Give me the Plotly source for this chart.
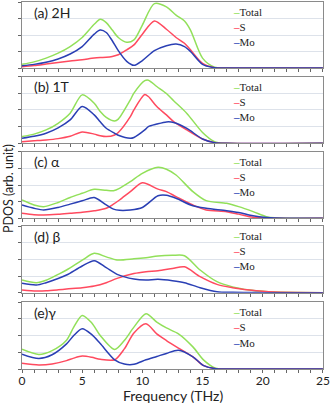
import plotly.graph_objects as go

panel_labels = ["(a) 2H", "(b) 1T", "(c) α", "(d) β", "(e)γ"]
series_names = ["Total", "S", "Mo"]
series_colors = ["#92e05a", "#ff4a5f", "#2a3fb4"]
x_tick_vals = [0, 5, 10, 15, 20, 25]

# ---- (a) 2H ----
freq_a = [0, 1, 2, 3, 4, 5, 6, 6.5, 7, 7.5, 8, 8.7, 9.3, 10, 11, 12, 12.8, 13.5, 14, 15, 16, 17, 25]
total_a = [0.22, 0.37, 0.6, 0.9, 1.3, 1.85, 2.65, 2.95, 2.75, 2.3, 1.85, 1.56, 1.7, 2.6, 3.9, 3.7, 3.2, 2.85, 2.3, 0.6, 0.05, 0, 0]
s_a = [0.08, 0.15, 0.24, 0.33, 0.42, 0.5, 0.6, 0.63, 0.65, 0.7, 0.8, 1.1, 1.4, 2.05, 2.85, 2.35, 1.85, 1.5, 1.1, 0.28, 0.02, 0, 0]
mo_a = [0.14, 0.22, 0.35, 0.55, 0.85, 1.3, 2.05, 2.3, 2.15, 1.65, 1.05, 0.4, 0.16, 0.45, 1.05, 1.35, 1.45, 1.3, 1.0, 0.22, 0.02, 0, 0]

# ---- (b) 1T ----
freq_b = [0, 1, 2, 3, 4, 5, 6, 6.5, 7, 7.7, 8, 9, 9.3, 10.2, 10.5, 11.2, 12, 12.6, 13.7, 15, 16, 17, 25]
total_b = [0.4, 0.55, 0.8, 1.2, 1.8, 2.9, 2.4, 1.9, 1.55, 1.33, 1.45, 2.6, 3.0, 3.75, 3.78, 3.4, 2.98, 2.55, 1.79, 0.65, 0.1, 0, 0]
s_b = [0.1, 0.15, 0.2, 0.28, 0.42, 0.68, 0.55, 0.45, 0.4, 0.5, 0.65, 1.6, 2.0, 2.92, 2.8, 2.2, 1.7, 1.3, 0.8, 0.26, 0.04, 0, 0]
mo_b = [0.3, 0.42, 0.6, 0.92, 1.4, 2.2, 1.7, 1.29, 0.9, 0.6, 0.48, 0.3, 0.35, 0.8, 1.0, 1.15, 1.28, 1.25, 0.89, 0.26, 0.04, 0, 0]

# ---- (c) alpha ----
freq_c = [0, 1, 1.8, 3, 4, 5, 6, 7, 7.6, 8.1, 9, 10, 11.3, 12, 12.8, 14.2, 15.3, 17, 18, 19.2, 20.3, 21, 25]
total_c = [1.1, 0.8, 0.7, 0.95, 1.25, 1.5, 1.74, 1.68, 1.66, 1.8, 2.2, 2.7, 3.06, 2.95, 2.6, 1.6, 1.06, 0.9, 0.7, 0.4, 0.1, 0.03, 0]
s_c = [0.3, 0.22, 0.2, 0.24, 0.3, 0.36, 0.45, 0.6, 0.85, 1.1, 1.6, 2.13, 1.75, 1.6, 1.3, 0.8, 0.5, 0.4, 0.25, 0.06, 0.02, 0, 0]
mo_c = [0.8, 0.6, 0.5, 0.65, 0.85, 1.05, 1.25, 0.8, 0.55, 0.48, 0.5, 0.65, 1.35, 1.38, 1.2, 0.75, 0.6, 0.46, 0.35, 0.15, 0.05, 0.02, 0]

# ---- (d) beta ----
freq_d = [0, 1.2, 2, 3, 3.7, 5, 6, 7, 7.9, 9.3, 10.3, 11.3, 12.5, 13.5, 14.8, 16.2, 17.5, 18.9, 20, 21, 25]
total_d = [0.76, 0.6, 0.75, 1.1, 1.36, 1.95, 2.36, 2.15, 1.96, 2.03, 2.1, 2.2, 2.24, 2.22, 1.36, 0.66, 0.35, 0.16, 0.08, 0.04, 0]
s_d = [0.16, 0.1, 0.11, 0.17, 0.22, 0.3, 0.4, 0.6, 0.86, 1.15, 1.26, 1.32, 1.45, 1.55, 0.96, 0.5, 0.3, 0.16, 0.08, 0.04, 0]
mo_d = [0.56, 0.46, 0.6, 0.85, 1.06, 1.6, 1.92, 1.5, 1.1, 0.82, 0.76, 0.8, 0.72, 0.6, 0.3, 0.06, 0.02, 0.01, 0, 0, 0]

# ---- (e) gamma ----
freq_e = [0, 1.4, 2.5, 3.7, 4.3, 5, 5.8, 6.5, 7.7, 8.5, 9.3, 10.3, 11.2, 12, 13, 14.2, 15.1, 16.1, 17, 25]
total_e = [1.18, 0.87, 1.1, 1.72, 2.5, 3.2, 2.75, 2.0, 1.16, 1.7, 2.5, 3.3, 2.8, 2.45, 2.1, 1.32, 0.53, 0.04, 0, 0]
s_e = [0.34, 0.24, 0.3, 0.5, 0.65, 0.77, 0.7, 0.58, 0.55, 1.2, 2.15, 2.7, 2.1, 1.7, 1.25, 0.73, 0.2, 0.02, 0, 0]
mo_e = [0.89, 0.63, 0.85, 1.5, 2.0, 2.4, 2.05, 1.52, 0.55, 0.3, 0.28, 0.55, 0.75, 0.93, 1.12, 0.73, 0.2, 0.02, 0, 0]

panels = [
    (freq_a, [total_a, s_a, mo_a]),
    (freq_b, [total_b, s_b, mo_b]),
    (freq_c, [total_c, s_c, mo_c]),
    (freq_d, [total_d, s_d, mo_d]),
    (freq_e, [total_e, s_e, mo_e]),
]

W, H = 331, 404
ml, mr, mt, mb = 22, 8, 0, 35
plot_h = H - mt - mb
# panel top/bottom in pixels
panel_px = [(2, 68), (76.5, 143.3), (151.7, 218.3), (226, 292.7), (302, 369)]

fig = go.Figure()
layout = dict(
    width=W, height=H,
    margin=dict(l=ml, r=mr, t=mt, b=mb),
    paper_bgcolor="white", plot_bgcolor="white",
    showlegend=False,
    font=dict(family="Lato", color="#222"),
)
annotations = []

for i, (freq, vals) in enumerate(panels):
    n = i + 1
    xa = "x" if n == 1 else f"x{n}"
    ya = "y" if n == 1 else f"y{n}"
    for name, col, v in zip(series_names, series_colors, vals):
        fig.add_trace(go.Scatter(
            x=freq, y=v, mode="lines", name=name,
            line=dict(color=col, width=1.5, shape="spline", smoothing=0.8),
            xaxis=xa, yaxis=ya, showlegend=False,
        ))
    top, bot = panel_px[i]
    dom = [(plot_h - (bot - mt)) / plot_h, (plot_h - (top - mt)) / plot_h]
    last = (n == 5)
    layout["xaxis" if n == 1 else f"xaxis{n}"] = dict(
        domain=[0, 1], range=[0, 25.01], anchor=ya,
        showline=True, linecolor="#8a8a8a", linewidth=1, mirror=True,
        showgrid=False, zeroline=False,
        ticks="outside", ticklen=3, tickcolor="#666",
        tickvals=x_tick_vals, showticklabels=last,
        tickfont=dict(family="Lato", size=12, color="#222"),
        ticklabelstandoff=-2,
        minor=dict(dtick=1, ticks="outside", ticklen=3, tickcolor="#666", showgrid=False),
    )
    layout["yaxis" if n == 1 else f"yaxis{n}"] = dict(
        domain=dom, range=[0, 4], anchor=xa,
        showline=True, linecolor="#8a8a8a", linewidth=1, mirror=True,
        showgrid=True, gridcolor="#dde2ea", gridwidth=1,
        zeroline=False, ticks="outside", ticklen=3, tickcolor="#666",
        dtick=1, showticklabels=False,
    )
    dref_x = f"{xa} domain"
    dref_y = f"{ya} domain"
    annotations.append(dict(
        text=panel_labels[i], xref=dref_x, yref=dref_y, x=0.033, y=1 - 10 / 66,
        xanchor="left", yanchor="middle", showarrow=False,
        font=dict(family="Lato", size=14, color="#222"),
    ))
    for k, (name, col) in enumerate(zip(series_names, series_colors)):
        annotations.append(dict(
            text=f"<span style='color:{col}'><b>–</b></span>{name}",
            xref=dref_x, yref=dref_y, x=0.695, y=1 - (10 + 15 * k) / 66,
            xanchor="left", yanchor="middle", showarrow=False,
            font=dict(family="Liberation Serif", size=11, color="#222"),
        ))

annotations.append(dict(
    text="PDOS (arb. unit)", xref="paper", yref="paper", x=0, xshift=-14,
    y=(plot_h - (189 - mt)) / plot_h, textangle=-90, showarrow=False,
    xanchor="center", yanchor="middle",
    font=dict(family="Lato", size=12.5, color="#222"),
))
annotations.append(dict(
    text="Frequency (THz)", xref="paper", yref="paper", x=0.5,
    y=-(395 - 369) / plot_h, showarrow=False,
    xanchor="center", yanchor="middle",
    font=dict(family="Lato", size=14, color="#222"),
))
layout["annotations"] = annotations
fig.update_layout(**layout)
fig.write_html(
    "out.html",
    config={"displayModeBar": False},
    post_script="document.body.style.margin='0';document.body.style.overflow='hidden';",
)
